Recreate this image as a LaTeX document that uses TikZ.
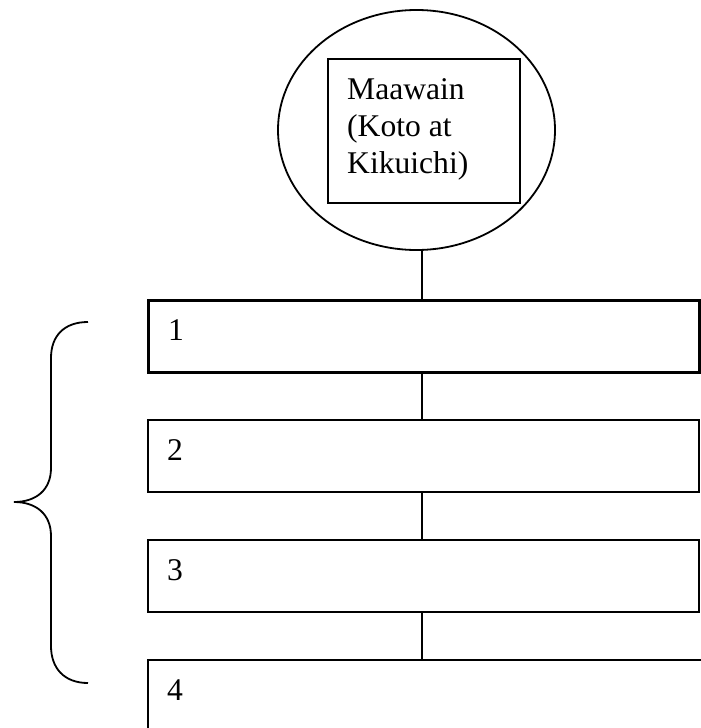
\documentclass[tikz,border=0pt]{standalone}
\usepackage{fontspec}
\setmainfont{Liberation Serif}
\usetikzlibrary{shapes.geometric}
\begin{document}
\begin{tikzpicture}[x=1pt,y=-1pt,
  lbl/.style={inner sep=0pt,anchor=base west,font=\fontsize{31.6}{37}\selectfont,align=left},
  stepbox/.style={draw,line width=1.8pt,rectangle,inner sep=0pt,anchor=north west},
  link/.style={line width=1.6pt}]
\useasboundingbox (0,0) rectangle (701,728);
\clip (0,0) rectangle (701,728);
\node[draw,ellipse,line width=1.8pt,minimum width=277pt,minimum height=240pt,inner sep=0pt] (top) at (416.5,130) {};
\node[stepbox,minimum width=192pt,minimum height=144pt] (inner) at (327,58) {};
\node[lbl] (title) at (347,173) {Maawain\\(Koto at\\Kikuichi)};
\node[stepbox,line width=2.6pt,minimum width=551pt,minimum height=72pt] (b1) at (147,299) {};
\node[stepbox,minimum width=551pt,minimum height=72pt] (b2) at (147,419) {};
\node[stepbox,minimum width=551pt,minimum height=72pt] (b3) at (147,539) {};
\node[stepbox,minimum width=600pt,minimum height=120pt] (b4) at (147,659) {};
\node[lbl] (t1) at (168,340) {1};
\node[lbl] (t2) at (167,460) {2};
\node[lbl] (t3) at (167,580) {3};
\node[lbl] (t4) at (167,700) {4};
\coordinate (axis) at (422,0);
\draw[link] (top.south -| axis) -- (b1.north -| axis);
\draw[link] (b1.south -| axis) -- (b2.north -| axis);
\draw[link] (b2.south -| axis) -- (b3.north -| axis);
\draw[link] (b3.south -| axis) -- (b4.north -| axis);
\coordinate (bt) at (88,322);
\coordinate (bm) at (14,502);
\coordinate (bb) at (88,683);
\draw[line width=1.8pt] (bt) .. controls (64,322) and (51,336) .. (51,358) -- (51,468)
  .. controls (51,490) and (36,502) .. (bm)
  .. controls (36,502) and (51,514) .. (51,536) -- (51,646)
  .. controls (51,668) and (64,683) .. (bb);
\end{tikzpicture}
\end{document}
